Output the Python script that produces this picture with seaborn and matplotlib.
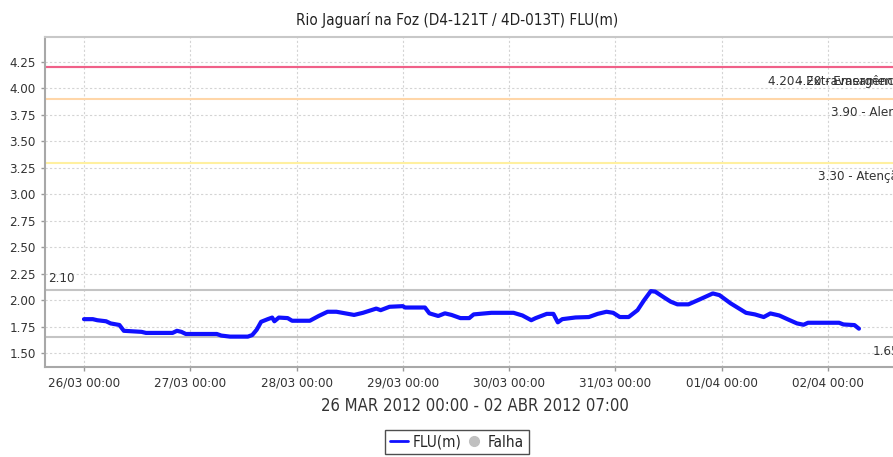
import numpy as np
import pandas as pd
import matplotlib
matplotlib.use("Agg")
import matplotlib.pyplot as plt
import matplotlib.dates as mdates
from matplotlib.lines import Line2D
import seaborn as sns

# leituras (horas desde 26/03/2012 00:00, nivel em m)
hours = [0, 2, 3, 5, 6, 8, 9, 13, 14, 20, 21, 22, 23, 30, 31, 33, 37, 38, 39, 40,
         41.5, 42.5, 43, 44, 46, 47, 51, 53, 55, 57, 61, 63, 66, 67, 69, 72, 72.5, 77,
         78, 80, 81.5, 83, 85, 87, 88, 92, 97, 99, 101, 102, 104.5, 106, 107, 108,
         111, 114, 116, 118, 119.5, 121, 123, 125, 126.5, 128, 129, 131, 132.5, 134,
         136.5, 139, 142, 143.5, 146, 149.5, 151.5, 153.5, 155, 157, 159, 161, 162.5,
         163.5, 170.5, 171.5, 174, 174.7, 175]
flu = [1.82, 1.82, 1.81, 1.80, 1.78, 1.765, 1.71, 1.70, 1.69, 1.69, 1.71, 1.70, 1.68,
       1.68, 1.665, 1.655, 1.655, 1.67, 1.72, 1.795, 1.82, 1.835, 1.80, 1.835, 1.83,
       1.805, 1.805, 1.85, 1.89, 1.89, 1.86, 1.88, 1.92, 1.905, 1.937, 1.943, 1.93,
       1.93, 1.875, 1.85, 1.875, 1.86, 1.83, 1.83, 1.865, 1.88, 1.88, 1.855, 1.81,
       1.83, 1.87, 1.87, 1.79, 1.82, 1.836, 1.84, 1.87, 1.89, 1.88, 1.84, 1.84, 1.905,
       2.00, 2.085, 2.08, 2.025, 1.985, 1.96, 1.96, 2.006, 2.063, 2.047, 1.97, 1.88,
       1.865, 1.84, 1.874, 1.855, 1.817, 1.78, 1.767, 1.786, 1.786, 1.77, 1.764,
       1.74, 1.73]

# cotas de referencia
cota_vals = [4.20, 4.20, 3.90, 3.30]
cota_names = ["Extravasamento", "Emergência", "Alerta", "Atenção"]
cota_colors = ["#f4809c", "#f06088", "#ffd6a8", "#fff0a0"]
limits = [2.10, 1.65]

start = pd.Timestamp("2012-03-26 00:00")
df = pd.DataFrame({"data": start + pd.to_timedelta(hours, unit="h"), "FLU(m)": flu})

sns.set_theme(style="white")
plt.rcParams["font.family"] = ["DejaVu Sans"]
plt.rcParams["font.stretch"] = "condensed"

fig = plt.figure(figsize=(8.93, 4.57), dpi=100)
ax = fig.add_axes([45 / 893, 90 / 457, 860 / 893, 330 / 457])

for v, c in zip(cota_vals, cota_colors):
    ax.axhline(v, color=c, lw=1.5, zorder=1)
for v in limits:
    ax.axhline(v, color="#c4c4c4", lw=1.5, zorder=1)

sns.lineplot(data=df, x="data", y="FLU(m)", ax=ax, color="#1010ff", lw=3, zorder=3)

for v, n in zip(cota_vals, cota_names):
    ax.annotate("%.2f - %s" % (v, n), xy=(1, v), xycoords=("axes fraction", "data"),
                xytext=(0, -10), textcoords="offset points", ha="right", va="center",
                fontsize=9.5, color="#333333")
ax.annotate("2.10", xy=(0, 2.10), xycoords=("axes fraction", "data"),
            xytext=(2, 8), textcoords="offset points", ha="left", va="center",
            fontsize=9.5, color="#333333")
ax.annotate("1.65", xy=(1, 1.65), xycoords=("axes fraction", "data"),
            xytext=(-23, -10), textcoords="offset points", ha="left", va="center",
            fontsize=9.5, color="#333333")

ax.set_ylim(1.368, 4.486)
ax.set_yticks(np.arange(1.5, 4.26, 0.25))
ax.yaxis.set_major_formatter(matplotlib.ticker.FormatStrFormatter("%.2f"))
ax.set_xlim(start - pd.Timedelta(hours=8.8), start + pd.Timedelta(hours=185.4))
ax.xaxis.set_major_locator(mdates.DayLocator())
ax.xaxis.set_major_formatter(mdates.DateFormatter("%d/%m %H:%M"))

ax.grid(True, color="#d4d4d4", lw=0.8, ls=(0, (2, 2)))
ax.tick_params(axis="both", labelsize=9.5, labelcolor="#333333", length=3,
               color="#999999", width=1, direction="out", left=True, bottom=True)
for s in ["left", "bottom", "top"]:
    ax.spines[s].set_color("#a8a8a8")
    ax.spines[s].set_linewidth(1.5)
ax.spines["top"].set_color("#c8c8c8")
ax.spines["right"].set_visible(False)

ax.set_ylabel("")
ax.set_xlabel("26 MAR 2012 00:00 - 02 ABR 2012 07:00", fontsize=12, color="#333333",
              labelpad=6)
fig.text(457 / 893, 1 - 20 / 457, "Rio Jaguarí na Foz (D4-121T / 4D-013T) FLU(m)",
         ha="center", va="center", fontsize=11, color="#222222")

handles = [Line2D([], [], color="#1010ff", lw=2),
           Line2D([], [], color="#c0c0c0", marker="o", ls="", markersize=7)]
leg = fig.legend(handles, ["FLU(m)", "Falha"], loc="upper center",
                 bbox_to_anchor=(457 / 893, 1 - 430 / 457), ncol=2, frameon=True,
                 fancybox=False, fontsize=11, handlelength=1.2, handletextpad=0.3,
                 columnspacing=0.2, borderpad=0.3, borderaxespad=0)
leg.get_frame().set_edgecolor("#222222")
leg.get_frame().set_linewidth(1)

fig.savefig("out.png", dpi=100)
